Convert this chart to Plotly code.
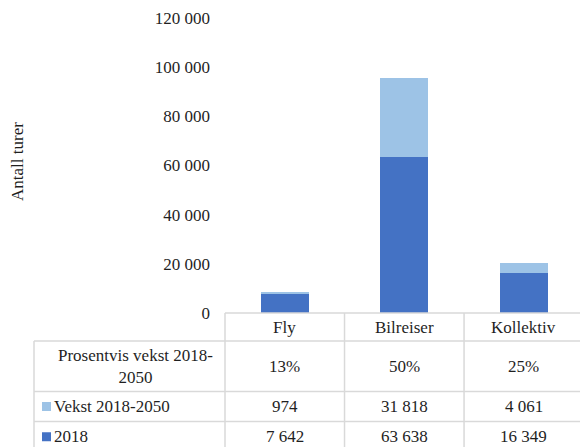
import plotly.graph_objects as go

# Trips per transport mode: 2018 level and growth to 2050
categories = ["Fly", "Bilreiser", "Kollektiv"]
trips_2018 = [7642, 63638, 16349]
growth_2018_2050 = [974, 31818, 4061]
series_names = ["Vekst 2018-2050", "2018"]
pct_row_label = "Prosentvis vekst 2018-<br>2050"
y_title = "Antall turer"
y_ticks = [0, 20000, 40000, 60000, 80000, 100000, 120000]

DARK = "#4472C4"
LIGHT = "#9DC3E6"
GRID = "#D9D9D9"
TEXT = "#1F1F1F"
FONT = "Liberation Serif"
FS = 17

W, H = 580, 447
M_L, M_R, M_T, M_B = 225, 0, 18, 134
PLOT_W = W - M_L - M_R
PLOT_H = H - M_T - M_B
X_RANGE = [-0.5, 2.47]


def fmt(v):
    return f"{v:,}".replace(",", " ")


def px_x(px):
    return (px - M_L) / PLOT_W


def px_y(py):
    return (H - M_B - py) / PLOT_H


def data_x(x):
    return (x - X_RANGE[0]) / (X_RANGE[1] - X_RANGE[0])


fig = go.Figure()
fig.add_bar(x=categories, y=trips_2018, name=series_names[1],
            marker=dict(color=DARK, line=dict(width=0)), width=0.4)
fig.add_bar(x=categories, y=growth_2018_2050, name=series_names[0],
            marker=dict(color=LIGHT, line=dict(width=0)), width=0.4)

shapes = []
annotations = []
line = dict(color=GRID, width=1.5)

# Data table grid under the plot
table_left = px_x(34)
table_right = 1.05
row_edges = [px_y(341), px_y(391.5), px_y(421.5)]
table_bottom = px_y(452)
cat_top = 0.0

shapes.append(dict(type="line", xref="paper", yref="paper",
                   x0=0, x1=table_right, y0=cat_top, y1=cat_top, line=line))
for y in row_edges:
    shapes.append(dict(type="line", xref="paper", yref="paper",
                       x0=table_left, x1=table_right, y0=y, y1=y, line=line))
shapes.append(dict(type="line", xref="paper", yref="paper",
                   x0=table_left, x1=table_left, y0=row_edges[0], y1=table_bottom,
                   line=line))
for i in range(len(categories)):
    xb = data_x(i - 0.5)
    shapes.append(dict(type="line", xref="paper", yref="paper",
                       x0=xb, x1=xb, y0=cat_top, y1=table_bottom, line=line))

font = dict(family=FONT, size=FS, color=TEXT)
cat_y = (cat_top + row_edges[0]) / 2
pct_y = (row_edges[0] + row_edges[1]) / 2
grow_y = (row_edges[1] + row_edges[2]) / 2
base_y = (row_edges[2] + table_bottom) / 2

for i, cat in enumerate(categories):
    cx = data_x(i)
    pct = round(growth_2018_2050[i] / trips_2018[i] * 100)
    for y, txt in [(cat_y, cat), (pct_y, f"{pct}%"),
                   (grow_y, fmt(growth_2018_2050[i])), (base_y, fmt(trips_2018[i]))]:
        annotations.append(dict(x=cx, y=y, xref="paper", yref="paper", text=txt,
                                showarrow=False, font=font,
                                xanchor="center", yanchor="middle"))

# Row headers
annotations.append(dict(x=px_x(135), y=pct_y, xref="paper", yref="paper",
                        text=pct_row_label, showarrow=False, font=font,
                        xanchor="center", yanchor="middle", align="center"))
for y, name, color in [(grow_y, series_names[0], LIGHT), (base_y, series_names[1], DARK)]:
    annotations.append(dict(x=px_x(52), y=y, xref="paper", yref="paper", text=name,
                            showarrow=False, font=font,
                            xanchor="left", yanchor="middle"))
    shapes.append(dict(type="rect", xref="paper", yref="paper",
                       x0=px_x(42), x1=px_x(51), y0=y - 4.5 / PLOT_H, y1=y + 4.5 / PLOT_H,
                       fillcolor=color, line=dict(width=0)))

# Rotated axis title
annotations.append(dict(x=px_x(17), y=px_y(162), xref="paper", yref="paper",
                        text=y_title, textangle=-90, showarrow=False, font=font,
                        xanchor="center", yanchor="middle"))

fig.update_layout(
    width=W, height=H,
    margin=dict(l=M_L, r=M_R, t=M_T, b=M_B, pad=0),
    barmode="stack",
    showlegend=False,
    paper_bgcolor="white",
    plot_bgcolor="white",
    separators=", ",
    font=font,
    shapes=shapes,
    annotations=annotations,
    xaxis=dict(range=X_RANGE, showticklabels=False, showgrid=False,
               zeroline=False, showline=False, ticks="", fixedrange=True),
    yaxis=dict(range=[0, 120000], tickvals=y_ticks, tickformat=",d",
               showgrid=False, zeroline=False, showline=False, ticks="",
               ticklabelstandoff=14, tickfont=font, fixedrange=True),
)

fig.write_html("out.html", config={"displayModeBar": False})
